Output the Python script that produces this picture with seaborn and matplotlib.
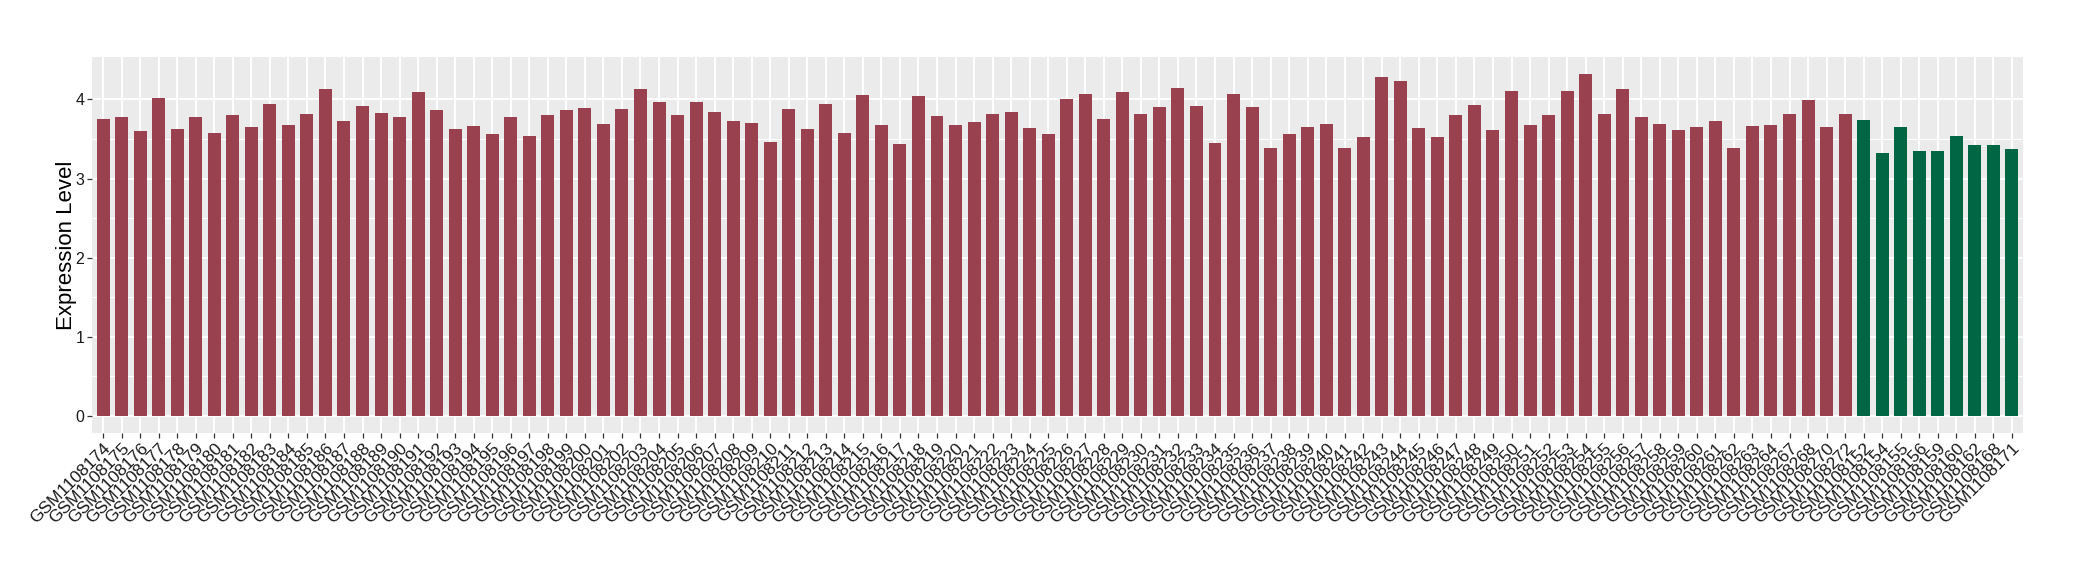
"""Bar chart of expression level per sample (ggplot-like look)"""

import pandas as pd
import matplotlib
matplotlib.use("Agg")
import matplotlib.pyplot as plt
import seaborn as sns

# Sample ids, in plotting order
group_a_ids = [f"GSM{n}" for n in range(1108174, 1108265)] + [
    "GSM1108267", "GSM1108268", "GSM1108270", "GSM1108272"]
group_b_ids = ["GSM1108152", "GSM1108154", "GSM1108155", "GSM1108156",
               "GSM1108159", "GSM1108160", "GSM1108162", "GSM1108168",
               "GSM1108171"]

# Expression values
group_a_values = [
    3.75, 3.78, 3.60, 4.02, 3.63, 3.78, 3.58, 3.80, 3.65, 3.94,
    3.68, 3.82, 4.13, 3.73, 3.92, 3.83, 3.78, 4.09, 3.87, 3.63,
    3.66, 3.56, 3.78, 3.54, 3.80, 3.87, 3.89, 3.69, 3.88, 4.13,
    3.97, 3.80, 3.97, 3.84, 3.73, 3.70, 3.46, 3.88, 3.63, 3.94,
    3.58, 4.06, 3.68, 3.44, 4.04, 3.79, 3.68, 3.71, 3.82, 3.84,
    3.64, 3.56, 4.00, 4.07, 3.75, 4.09, 3.82, 3.90, 4.14, 3.92,
    3.45, 4.07, 3.90, 3.39, 3.56, 3.65, 3.69, 3.39, 3.53, 4.28,
    4.23, 3.64, 3.53, 3.80, 3.93, 3.61, 4.11, 3.68, 3.80, 4.11,
    4.32, 3.82, 4.13, 3.78, 3.69, 3.61, 3.65, 3.73, 3.39, 3.66,
    3.68, 3.82, 3.99, 3.65, 3.82,
]
group_b_values = [3.74, 3.32, 3.65, 3.35, 3.35, 3.54, 3.42, 3.42, 3.37]

colors = {"A": "#9A4150", "B": "#006644"}

df = pd.DataFrame({
    "Sample": group_a_ids + group_b_ids,
    "Expression": group_a_values + group_b_values,
    "Group": ["A"] * len(group_a_ids) + ["B"] * len(group_b_ids),
})

plt.rcParams["font.family"] = ["Liberation Sans", "DejaVu Sans"]

fig = plt.figure(figsize=(20.8, 5.8), dpi=100)
ax = fig.add_axes([0.0442, 0.2534, 0.9284, 0.6483])
ax.set_facecolor("#EBEBEB")

sns.barplot(data=df, x="Sample", y="Expression", hue="Group",
            palette=colors, dodge=False, width=0.7, legend=False,
            saturation=1, ax=ax, zorder=3)

n = len(df)
ax.set_xlim(-0.6, n - 1 + 0.6)
ax.set_ylim(-0.216, 4.535)
ax.set_yticks([0, 1, 2, 3, 4])
ax.set_yticks([0.5, 1.5, 2.5, 3.5], minor=True)

ax.grid(True, which="major", color="white", linewidth=1.4, zorder=0)
ax.grid(True, which="minor", axis="y", color="white", linewidth=0.7, zorder=0)
ax.set_axisbelow(True)
for s in ax.spines.values():
    s.set_visible(False)

ax.tick_params(axis="both", which="major", length=3.5, width=0.9,
               color="#333333")
ax.tick_params(axis="y", which="minor", length=0)
ax.tick_params(axis="y", labelsize=11.5, labelcolor="#1A1A1A", pad=2)
ax.tick_params(axis="x", labelsize=12.5, labelcolor="#1A1A1A", pad=2)
plt.setp(ax.get_xticklabels(), rotation=45, ha="right", va="top",
         rotation_mode="anchor")

ax.set_xlabel("")
ax.set_ylabel("Expression Level", fontsize=16, color="black", labelpad=-1)

fig.savefig("out.png", dpi=100)
